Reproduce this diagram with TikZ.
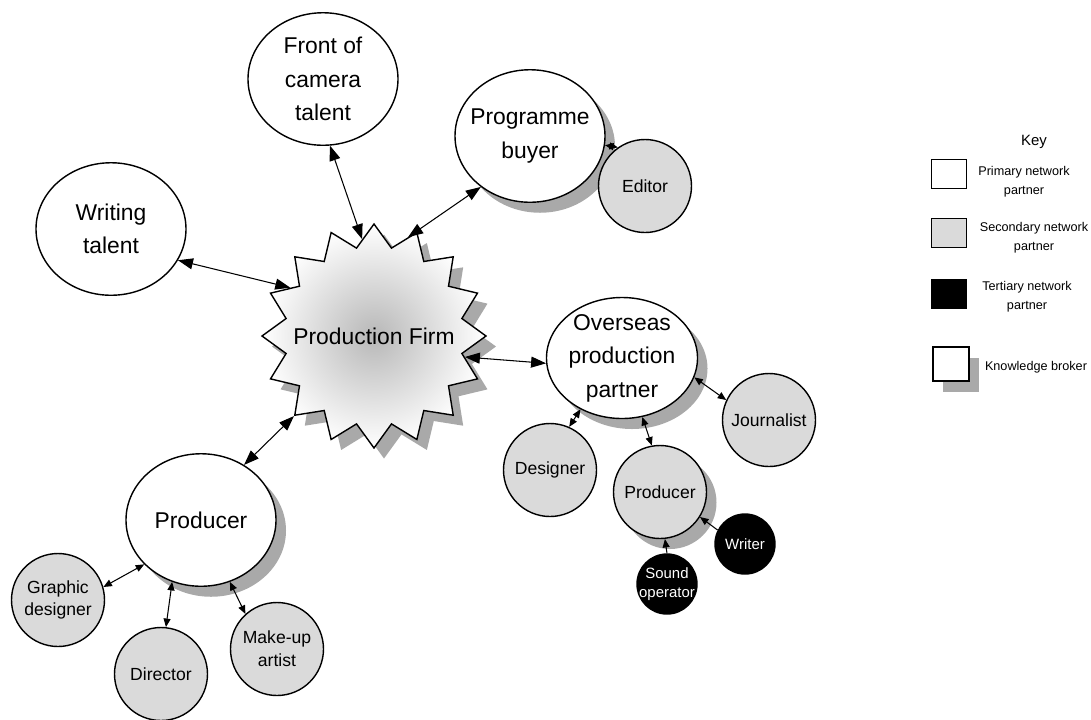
\documentclass[tikz,border=0pt]{standalone}
\usepackage{fontspec}
\setmainfont{Liberation Sans}
\usepackage{tikz}
\usetikzlibrary{shapes.geometric,shadows,arrows.meta}
\definecolor{secgray}{HTML}{DADADA}
\definecolor{shadowgray}{HTML}{A9A9A9}

\begin{document}
\begin{tikzpicture}[x=0.2mm, y=-0.2mm, line width=0.8pt,
    prim/.style={ellipse, draw, fill=white, inner sep=-2mm, align=center,
      minimum width=30mm, minimum height=26.5mm, font=\fontsize{13}{19}\selectfont},
    sec/.style={circle, draw, fill=secgray, inner sep=0pt, minimum size=18.6mm,
      align=center, font=\fontsize{10}{13}\selectfont},
    tert/.style={circle, draw, fill=black, text=white, inner sep=-1mm,
      minimum size=12mm, align=center, font=\fontsize{8.5}{11}\selectfont},
    broker/.style={drop shadow={shadow xshift=2mm, shadow yshift=-2.1mm,
      fill=shadowgray, opacity=1}},
    link/.style={line width=0.6pt,
      {Triangle[length=3mm,width=2.2mm]}-{Triangle[length=3mm,width=2.2mm]}},
    sublink/.style={line width=0.6pt,
      {Triangle[length=1.7mm,width=1.4mm]}-{Triangle[length=1.7mm,width=1.4mm]}},
    oneway/.style={line width=0.6pt, -{Triangle[length=1.7mm,width=1.4mm]}},
    keybox/.style={rectangle, draw, minimum width=7mm, minimum height=5.8mm},
    keytext/.style={align=center, font=\fontsize{7.2}{10.8}\selectfont}]
  \useasboundingbox (0,0) rectangle (1091,719);

  % the firm
  \node[star, star points=16, star point ratio=1.25, minimum size=44.8mm,
    inner xsep=-8mm, inner ysep=-3mm, draw, shading=radial, inner color=black!28,
    outer color=white, broker, font=\fontsize{13}{19}\selectfont] (pf) at (374,336)
    {Production Firm};

  % primary partners
  \node[prim] (wt) at (111,229) {Writing\\talent};
  \node[prim] (fc) at (323,79) {Front of\\camera\\talent};
  \node[prim, broker] (pb) at (530,136) {Programme\\buyer};
  \node[prim, broker, minimum width=30.2mm, minimum height=24.2mm] (ov) at (622,358)
    {Overseas\\production\\partner};
  \node[prim, broker] (pr) at (201,520) {Producer};

  % secondary and tertiary partners
  \node[sec] (ed) at (645,186) {Editor};
  \node[sec] (jo) at (769,420) {Journalist};
  \node[sec] (de) at (550,470) {Designer};
  \node[sec, broker] (pr2) at (660,492) {Producer};
  \node[sec] (gd) at (58,600) {Graphic\\designer};
  \node[sec] (di) at (161,674) {Director};
  \node[sec] (mu) at (277,649) {Make-up\\artist};
  \node[tert] (wr) at (745,544) {Writer};
  \node[tert] (so) at (667,584) {Sound\\operator};

  \draw[link] (wt.-25) -- (pf.150);
  \draw[link] (fc.-84) -- (pf.97);
  \draw[link] (pb.-134) -- (pf.71);
  \draw[link] (pf.-13) -- (ov.-176);
  \draw[link] (pr.52) -- (pf.-135);
  \draw[sublink] (pb.-7) -- (ed.125);
  \draw[sublink] (ov.-15) -- (jo.155);
  \draw[sublink] (ov.-129) -- (de.66);
  \draw[sublink] (ov.-71) -- (pr2.100);
  \draw[oneway] (wr.153) -- (pr2.-32);
  \draw[oneway] (so.90) -- (pr2.-84);
  \draw[sublink] (pr.218) -- (gd.16);
  \draw[sublink] (pr.-115) -- (di.84);
  \draw[sublink] (pr.-65) -- (mu.132);

  % key
  \node[font=\fontsize{8.5}{10}\selectfont] (key) at (1034,142) {Key};
  \node[keybox] (k1) at (949,174) {};
  \node[keybox, fill=secgray] (k2) at (949,233) {};
  \node[keybox, fill=black] (k3) at (949,294) {};
  \node[keybox, fill=white, broker, minimum width=7.2mm, minimum height=6.8mm] (k4) at (951,364) {};
  \node[keytext] (t1) at (1024,182) {Primary network\\partner};
  \node[keytext] (t2) at (1034,238) {Secondary network\\partner};
  \node[keytext] (t3) at (1027,297) {Tertiary network\\partner};
  \node[keytext] (t4) at (1036,367) {Knowledge broker};
\end{tikzpicture}
\end{document}
